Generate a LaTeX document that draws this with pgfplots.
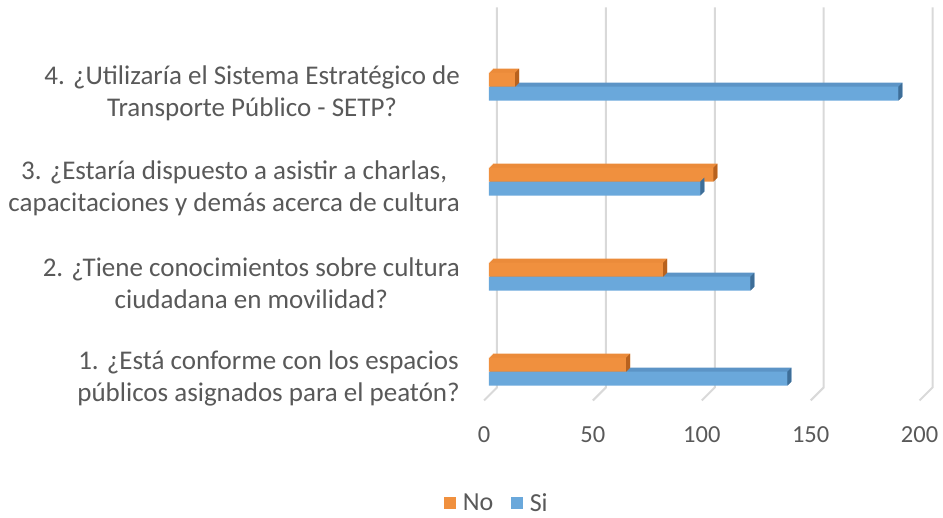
\documentclass[border=0pt]{standalone}
\usepackage{fontspec}
\setmainfont{Carlito}
\usepackage{pgfplots}
\usepackage{pgfplotstable}
\pgfplotsset{compat=1.18}
\definecolor{txt}{HTML}{595959}
\definecolor{gridc}{HTML}{D9D9D9}
\definecolor{orF}{HTML}{F0903E}
\definecolor{orT}{HTML}{EB8B3A}
\definecolor{orS}{HTML}{B8621E}
\definecolor{blF}{HTML}{6AA8DB}
\definecolor{blT}{HTML}{5C94C6}
\definecolor{blS}{HTML}{3E6E98}
\pgfdeclareplotmark{sideNo}{\pgfpathmoveto{\pgfqpoint{0pt}{0pt}}\pgfpathlineto{\pgfqpoint{4pt}{4pt}}\pgfpathlineto{\pgfqpoint{4pt}{18pt}}\pgfpathlineto{\pgfqpoint{0pt}{14pt}}\pgfpathclose\pgfusepathqfill}
\pgfdeclareplotmark{sideSi}{\pgfpathmoveto{\pgfqpoint{0pt}{-14pt}}\pgfpathlineto{\pgfqpoint{4pt}{-10pt}}\pgfpathlineto{\pgfqpoint{4pt}{4pt}}\pgfpathlineto{\pgfqpoint{0pt}{0pt}}\pgfpathclose\pgfusepathqfill}
\pgfplotstableread{
cat si no
1 137 63
2 120 80
3 97 103
4 188 12
}\data
\begin{document}
\begin{tikzpicture}
\path[use as bounding box] (0,0) rectangle (943pt,518pt);
\begin{axis}[
  at={(489pt,122.55pt)}, anchor=south west,
  scale only axis, width=435.6pt, height=380pt,
  xmin=0, xmax=200, ymin=0.75, ymax=4.75,
  clip=false,
  axis line style={draw=none}, tick style={draw=none},
  xtick={0,50,100,150,200}, ytick={1,2,3,4},
  yticklabels={{1. ¿Está conforme con los espacios\\públicos asignados para el peatón?},
               {2. ¿Tiene conocimientos sobre cultura\\ciudadana en movilidad?},
               {3. ¿Estaría dispuesto a asistir a charlas,\\capacitaciones y demás acerca de cultura},
               {4. ¿Utilizaría el Sistema Estratégico de\\Transporte Público - SETP?}},
  /pgf/number format/assume math mode=true,
  xticklabel style={anchor=center, xshift=-5pt, yshift=-39.5pt, font=\fontsize{24.5}{30}\selectfont, text=txt},
  yticklabel style={align=center, anchor=east, inner sep=0pt, xshift=-29pt, yshift=-7pt, font=\fontsize{27}{32}\selectfont, text=txt},
  bar width=14pt,
  legend image code/.code={\fill[#1,draw=none] (0pt,-6pt) rectangle (12pt,6pt);},
  legend style={draw=none, fill=none, at={(0.016,-0.283)}, anchor=center, legend columns=2,
    font=\fontsize{26}{30}\selectfont, text=txt,
    nodes={inner xsep=0pt, inner ysep=2pt},
    /tikz/every odd column/.append style={column sep=6.5pt},
    /tikz/every even column/.append style={column sep=18pt}},
]
\addlegendimage{fill=orF}\addlegendentry{No}
\addlegendimage{fill=blF}\addlegendentry{Si}
\pgfplotsinvokeforeach{0,50,100,150,200}{
  \draw[gridc, line width=2pt] ([xshift=8pt,yshift=8pt]axis cs:#1,4.75) -- ([xshift=8pt,yshift=8pt]axis cs:#1,0.75) -- ([xshift=-5pt,yshift=-5pt]axis cs:#1,0.75);
}
% Si depth
\addplot[xbar, bar shift=-7pt, fill=blT, draw=none, xshift=4pt, yshift=4pt, forget plot] table[x=si,y=cat]{\data};
\addplot[xbar, bar shift=-7pt, fill=blT, draw=none, xshift=3pt, yshift=3pt, forget plot] table[x=si,y=cat]{\data};
\addplot[xbar, bar shift=-7pt, fill=blT, draw=none, xshift=2pt, yshift=2pt, forget plot] table[x=si,y=cat]{\data};
\addplot[xbar, bar shift=-7pt, fill=blT, draw=none, xshift=1pt, yshift=1pt, forget plot] table[x=si,y=cat]{\data};
\addplot[xbar, bar shift=-7pt, fill=blF, draw=none, forget plot] table[x=si,y=cat]{\data};
\addplot[only marks, mark=sideSi, fill=blS, draw=blS, forget plot] table[x=si,y=cat]{\data};
% No depth
\addplot[xbar, bar shift=7pt, fill=orT, draw=none, xshift=4pt, yshift=4pt, forget plot] table[x=no,y=cat]{\data};
\addplot[xbar, bar shift=7pt, fill=orT, draw=none, xshift=3pt, yshift=3pt, forget plot] table[x=no,y=cat]{\data};
\addplot[xbar, bar shift=7pt, fill=orT, draw=none, xshift=2pt, yshift=2pt, forget plot] table[x=no,y=cat]{\data};
\addplot[xbar, bar shift=7pt, fill=orT, draw=none, xshift=1pt, yshift=1pt, forget plot] table[x=no,y=cat]{\data};
\addplot[xbar, bar shift=7pt, fill=orF, draw=none, forget plot] table[x=no,y=cat]{\data};
\addplot[only marks, mark=sideNo, fill=orS, draw=orS, forget plot] table[x=no,y=cat]{\data};
\end{axis}
\end{tikzpicture}
\end{document}
